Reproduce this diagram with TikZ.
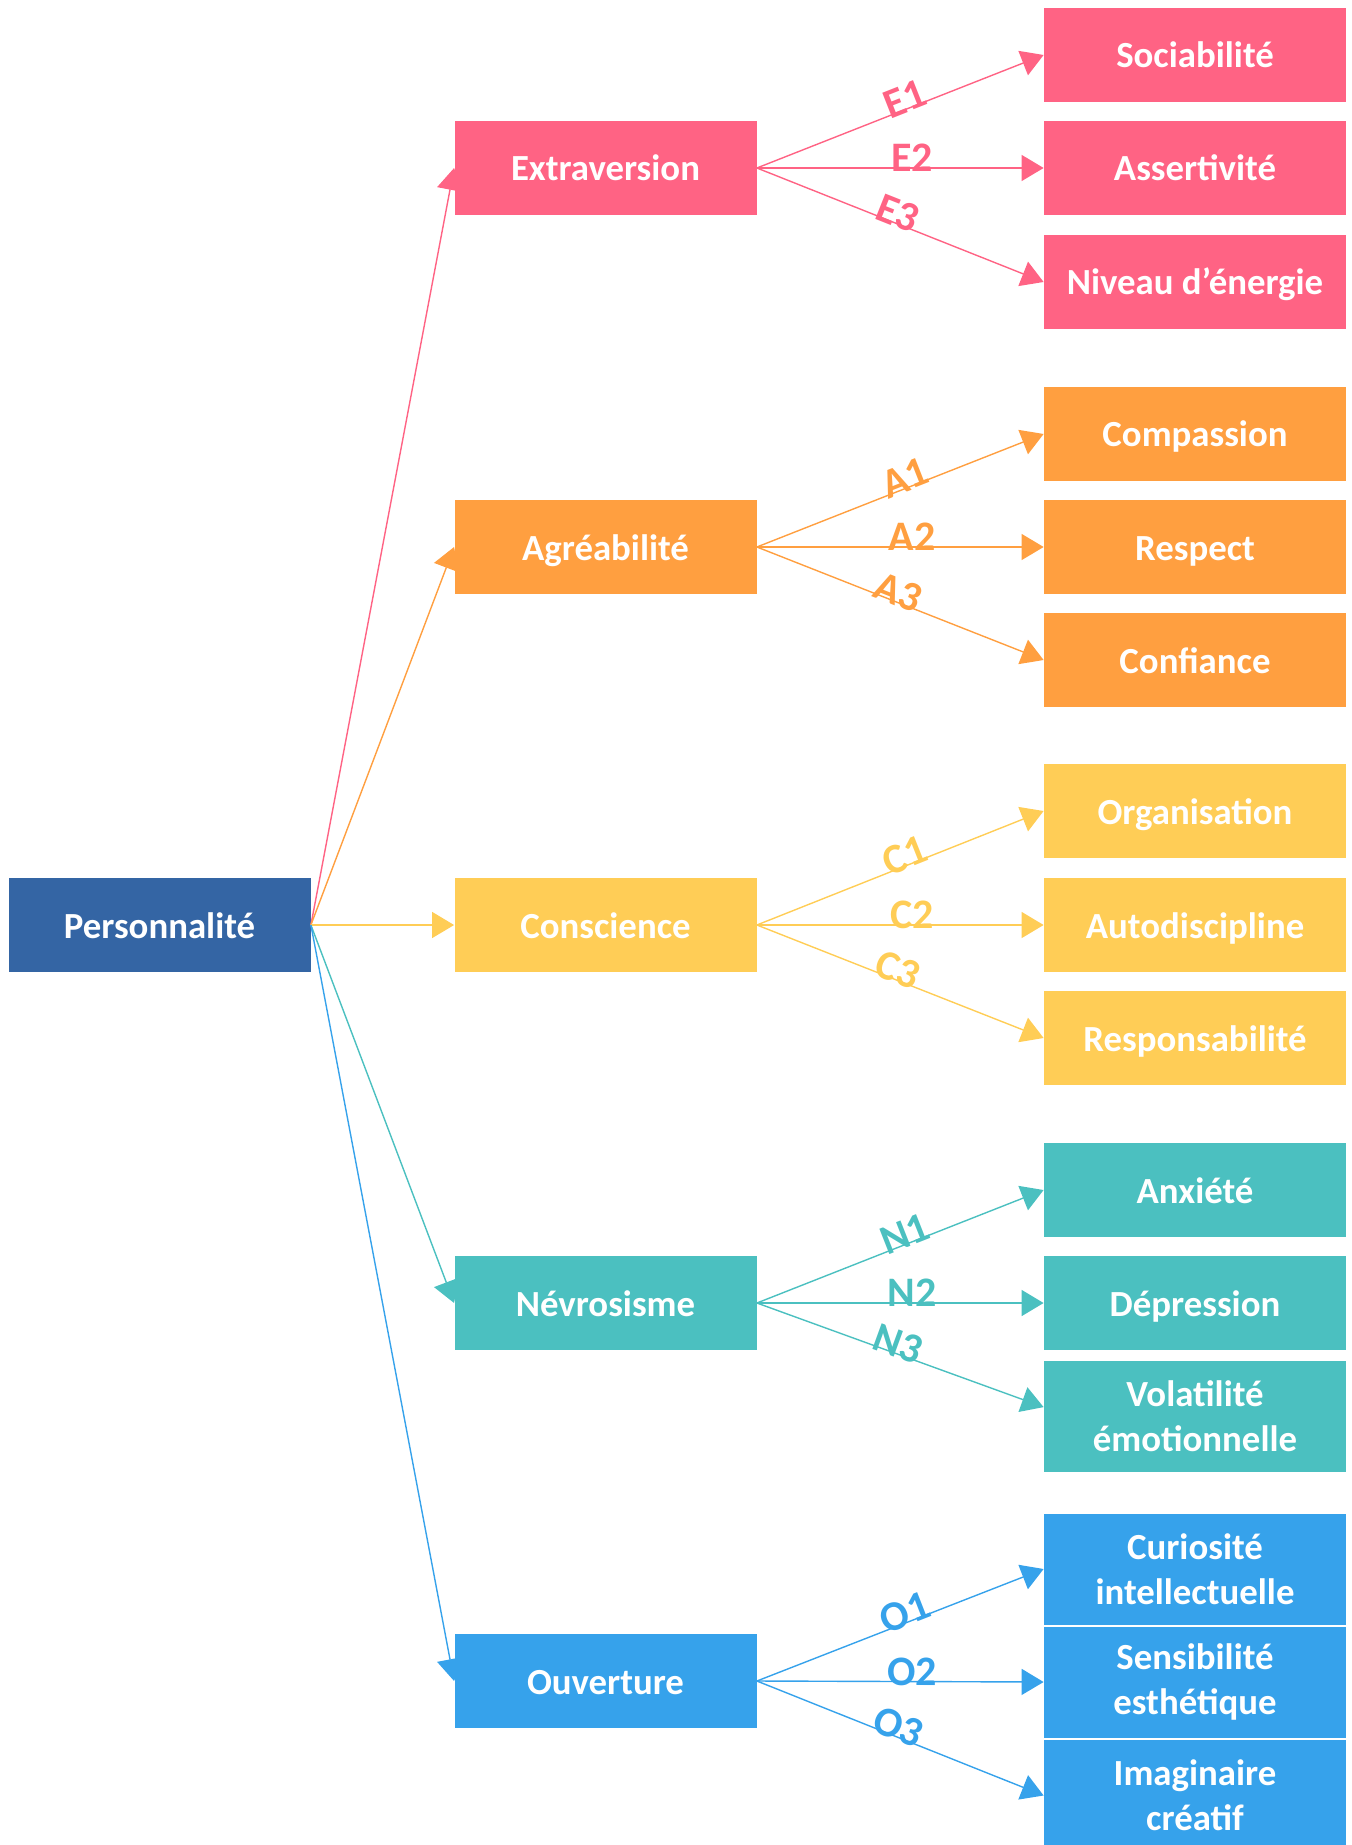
\documentclass[tikz,border=0pt]{standalone}
\usepackage{fontspec}
\setmainfont{Carlito}
\usetikzlibrary{arrows.meta,calc}
\definecolor{cpink}{RGB}{255,99,132}
\definecolor{corange}{RGB}{255,159,64}
\definecolor{cyellow}{RGB}{255,205,86}
\definecolor{cteal}{RGB}{75,192,192}
\definecolor{cblue}{RGB}{54,162,235}
\definecolor{cdark}{RGB}{52,101,164}
\begin{document}
\begin{tikzpicture}[x=0.5pt,y=-0.5pt,
  basebox/.style={rectangle, inner sep=0pt, minimum width=151pt, minimum height=47pt,
    text=white, font=\fontsize{18.4}{22.5}\selectfont\bfseries, align=center},
  box/.style={basebox, text height=17pt, text depth=4pt},
  tallbox/.style={basebox, minimum height=55.5pt},
  conn/.style={line width=0.7pt, -{Triangle[length=11pt,width=13pt]}},
  lab/.style={sloped, font=\fontsize{21}{25}\selectfont\bfseries, yshift=5pt, inner sep=0pt},
  labup/.style={lab, pos=0.529},
  labmid/.style={lab, pos=0.541},
  labdown/.style={lab, pos=0.48}]
\useasboundingbox (0,0) rectangle (1352,1845);

% root
\node[box, fill=cdark] (pers) at (159.5,925) {Personnalité};

% middle column
\node[box, fill=cpink]   (ext) at (605.5,168)  {Extraversion};
\node[box, fill=corange] (agr) at (605.5,547)  {Agréabilité};
\node[box, fill=cyellow] (con) at (605.5,925)  {Conscience};
\node[box, fill=cteal]   (nev) at (605.5,1303) {Névrosisme};
\node[box, fill=cblue]   (ouv) at (605.5,1681) {Ouverture};

% leaves
\node[box, fill=cpink] (e1) at (1195,55)  {Sociabilité};
\node[box, fill=cpink] (e2) at (1195,168) {Assertivité};
\node[box, fill=cpink] (e3) at (1195,282) {Niveau d’énergie};

\node[box, fill=corange] (a1) at (1195,434) {Compassion};
\node[box, fill=corange] (a2) at (1195,547) {Respect};
\node[box, fill=corange] (a3) at (1195,660) {Confiance};

\node[box, fill=cyellow] (c1) at (1195,811)  {Organisation};
\node[box, fill=cyellow] (c2) at (1195,925)  {Autodiscipline};
\node[box, fill=cyellow] (c3) at (1195,1038) {Responsabilité};

\node[box, fill=cteal] (n1) at (1195,1190) {Anxiété};
\node[box, fill=cteal] (n2) at (1195,1303) {Dépression};
\node[tallbox, fill=cteal] (n3) at (1195,1416) {Volatilité\\émotionnelle};

\node[tallbox, fill=cblue] (o1) at (1195,1569) {Curiosité\\intellectuelle};
\node[tallbox, fill=cblue] (o2) at (1195,1682) {Sensibilité\\esthétique};
\node[tallbox, fill=cblue] (o3) at (1195,1795.5) {Imaginaire\\créatif};

\coordinate (n3in) at ($(n3.north west)+(0,47)$);

% root connectors
\draw[conn, cpink]   (pers.east) -- (ext.west);
\draw[conn, corange] (pers.east) -- (agr.west);
\draw[conn, cyellow] (pers.east) -- (con.west);
\draw[conn, cteal]   (pers.east) -- (nev.west);
\draw[conn, cblue]   (pers.east) -- (ouv.west);

% leaf connectors
\draw[conn, cpink] (ext.east) -- node[labup, text=cpink] {E1} (e1.west);
\draw[conn, cpink] (ext.east) -- node[labmid, text=cpink] {E2} (e2.west);
\draw[conn, cpink] (ext.east) -- node[labdown, text=cpink] {E3} (e3.west);

\draw[conn, corange] (agr.east) -- node[labup, text=corange] {A1} (a1.west);
\draw[conn, corange] (agr.east) -- node[labmid, text=corange] {A2} (a2.west);
\draw[conn, corange] (agr.east) -- node[labdown, text=corange] {A3} (a3.west);

\draw[conn, cyellow] (con.east) -- node[labup, text=cyellow] {C1} (c1.west);
\draw[conn, cyellow] (con.east) -- node[labmid, text=cyellow] {C2} (c2.west);
\draw[conn, cyellow] (con.east) -- node[labdown, text=cyellow] {C3} (c3.west);

\draw[conn, cteal] (nev.east) -- node[labup, text=cteal] {N1} (n1.west);
\draw[conn, cteal] (nev.east) -- node[labmid, text=cteal] {N2} (n2.west);
\draw[conn, cteal] (nev.east) -- node[labdown, text=cteal] {N3} (n3in);

\draw[conn, cblue] (ouv.east) -- node[labup, text=cblue] {O1} (o1.west);
\draw[conn, cblue] (ouv.east) -- node[labmid, text=cblue] {O2} (o2.west);
\draw[conn, cblue] (ouv.east) -- node[labdown, text=cblue] {O3} (o3.west);
\end{tikzpicture}
\end{document}
